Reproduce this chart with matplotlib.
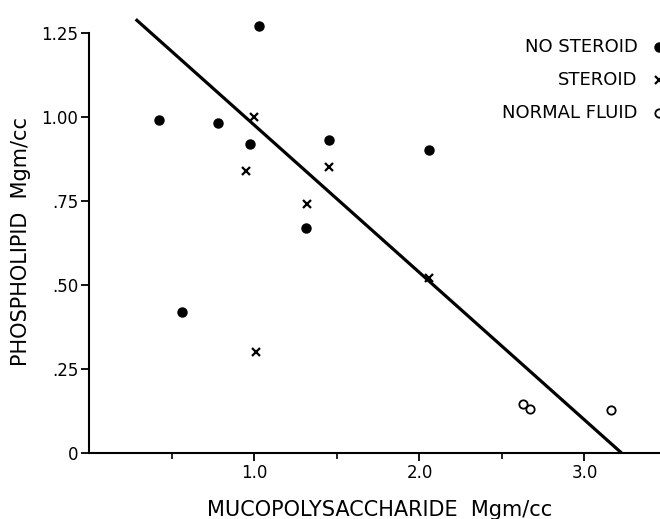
import numpy as np
import matplotlib
matplotlib.use('Agg')
import matplotlib.pyplot as plt

# values (Mgm/cc)
no_steroid_x = [0.42, 0.78, 1.03, 0.97, 1.45, 1.31, 0.56, 2.06]
no_steroid_y = [0.99, 0.98, 1.27, 0.92, 0.93, 0.67, 0.42, 0.90]

steroid_x = [1.00, 0.95, 1.45, 1.32, 2.06, 1.01]
steroid_y = [1.00, 0.84, 0.85, 0.74, 0.52, 0.30]

normal_x = [2.63, 2.67, 3.16]
normal_y = [0.146, 0.131, 0.129]

# fitted line end points
fit_x = [0.28, 3.225]
fit_y = [1.29, 0.0]

legend_labels = ['NO STEROID', 'STEROID', 'NORMAL FLUID']
y_ticks = [0, 0.25, 0.5, 0.75, 1.0, 1.25]
y_ticklabels = ['0', '.25', '.50', '.75', '1.00', '1.25']
x_ticks = [1.0, 2.0, 3.0]
x_ticklabels = ['1.0', '2.0', '3.0']

plt.rcParams['font.family'] = ['DejaVu Sans']

fig = plt.figure(figsize=(6.6, 5.19), dpi=100)
ax = fig.add_axes([0.1356, 0.1272, 0.8644, 0.8098])

ax.plot(fit_x, fit_y, color='black', lw=2.3, clip_on=False, solid_capstyle='butt')
ax.plot(no_steroid_x, no_steroid_y, 'o', color='black', ms=6.5, clip_on=False)
ax.plot(steroid_x, steroid_y, 'x', color='black', ms=6, mew=1.6, clip_on=False)
ax.plot(normal_x, normal_y, 'o', mfc='white', mec='black', ms=6, mew=1.3, clip_on=False)

ax.set_xlim(0, 3.458)
ax.set_ylim(0, 1.25)

ax.spines['top'].set_visible(False)
ax.spines['right'].set_visible(False)
ax.spines['left'].set_linewidth(1.5)
ax.spines['bottom'].set_linewidth(1.5)

ax.set_yticks(y_ticks)
ax.set_yticklabels(y_ticklabels, fontsize=12)
ax.set_xticks(x_ticks)
ax.set_xticklabels(x_ticklabels, fontsize=12)
ax.set_xticks([0.5, 1.5, 2.5], minor=True)
ax.tick_params(axis='y', direction='out', length=6, width=1.3, pad=2)
ax.tick_params(axis='x', which='major', direction='out', length=6, width=1.3, pad=2)
ax.tick_params(axis='x', which='minor', direction='out', length=4, width=1.2)

ax.set_xlabel('MUCOPOLYSACCHARIDE  Mgm/cc', fontsize=15)
ax.xaxis.set_label_coords(0.509, -0.112)
ax.set_ylabel('PHOSPHOLIPID  Mgm/cc', fontsize=15)
ax.yaxis.set_label_coords(-0.1025, 0.502)

# legend drawn by hand, markers run off the right edge like the original
rows = [0.967, 0.888, 0.810]
styles = [dict(marker='o', color='black', ms=6.5),
          dict(marker='x', color='black', ms=6, mew=1.6),
          dict(marker='o', mfc='white', mec='black', ms=6, mew=1.3)]
for lab, yy, st in zip(legend_labels, rows, styles):
    ax.text(0.961, yy, lab, transform=ax.transAxes, ha='right', va='center', fontsize=13)
    ax.plot([0.998], [yy], transform=ax.transAxes, ls='none', clip_on=False, **st)

fig.savefig('out.png', dpi=100)
